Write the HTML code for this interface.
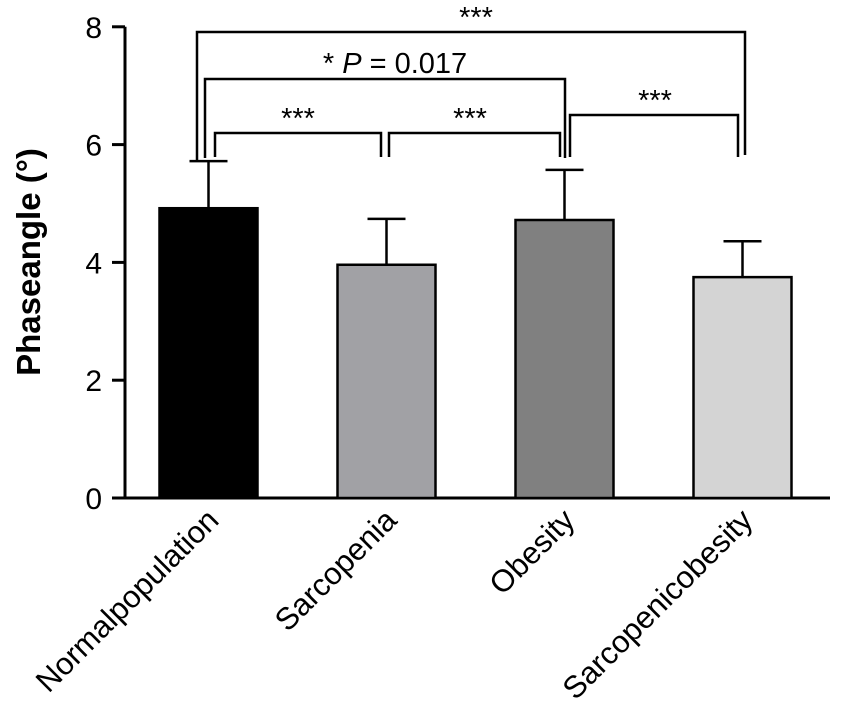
<!DOCTYPE html>
<html><head><meta charset="utf-8"><style>
body{margin:0;background:#fff}
svg text{font-family:"Liberation Sans",Arial,sans-serif;fill:#000}
</style></head><body>
<svg id="chart" width="851" height="711" viewBox="0 0 851 711">
<g id="axes"></g><g id="bars"></g><g id="sig"></g>
<text transform="translate(40,262) rotate(-90)" text-anchor="middle" font-size="33" font-weight="bold">Phaseangle (°)</text>
</svg>
<script>
const categories=["Normalpopulation","Sarcopenia","Obesity","Sarcopenicobesity"];
const means=[4.92,3.96,4.72,3.75];
const errs=[0.80,0.78,0.85,0.61];
const colors=["#000000","#a1a1a5","#808080","#d4d4d4"];
const yTicks=[0,2,4,6,8];
const NS="http://www.w3.org/2000/svg";
const y0=498,pxPer=58.9;
function y(v){return y0-v*pxPer;}
const centers=[208.5,386.5,564.5,742.5];
function x(i){return centers[i];}
const bw=98;
function mk(tag,attrs,parent){const e=document.createElementNS(NS,tag);for(const k in attrs)e.setAttribute(k,attrs[k]);parent.appendChild(e);return e;}
const axes=document.getElementById('axes'),bars=document.getElementById('bars'),sig=document.getElementById('sig');
const ya=mk('line',{x1:125,y1:y(8),x2:125,y2:y0+1,stroke:'#000','stroke-width':3},axes);


const xa=mk('line',{x1:124,y1:y0,x2:830,y2:y0,stroke:'#000','stroke-width':3},axes);


yTicks.forEach(t=>{
 const tk=mk('line',{x1:112,y1:y(t),x2:125,y2:y(t),stroke:'#000','stroke-width':3},axes);
 
 
 const lb=mk('text',{x:102,y:y(t)+11,'text-anchor':'end','font-size':30},axes);
 lb.textContent=t;
 
 
});
categories.forEach((c,i)=>{
 const cx=x(i);
 const e=mk('line',{x1:cx,y1:y(means[i]),x2:cx,y2:y(means[i]+errs[i]),stroke:'#000','stroke-width':2.5},bars);
 
 
 const cap=mk('line',{x1:cx-19,y1:y(means[i]+errs[i]),x2:cx+19,y2:y(means[i]+errs[i]),stroke:'#000','stroke-width':2.5},bars);
 
 
 const r=mk('rect',{x:cx-bw/2,y:y(means[i]),width:bw,height:y0-y(means[i]),fill:colors[i],stroke:'#000','stroke-width':2.5},bars);
 
 
 const t=mk('text',{transform:`translate(${cx+12},${y0+24}) rotate(-45)`,'text-anchor':'end','font-size':31},bars);
 t.textContent=c;
 
 
});
function bracket(x1,x2,yy,l1,l2,label,lx,ly){
 const p=mk('path',{d:`M${x1},${l1}V${yy}H${x2}V${l2}`,fill:'none',stroke:'#000','stroke-width':2.5},sig);
 
 
 const t=mk('text',{x:lx,y:ly,'text-anchor':'middle','font-size':29},sig);
 t.innerHTML=label;
 
 
}
bracket(197,745,32,160,155,'***',476,27);
bracket(205,565,79,158,158,'* <tspan font-style="italic">P</tspan> = 0.017',395,73);
bracket(215,381,133,157,157,'***',298,128);
bracket(389,560,133,157,157,'***',470,128);
bracket(570,738,115,157,157,'***',655,110);
</script>
</body></html>
